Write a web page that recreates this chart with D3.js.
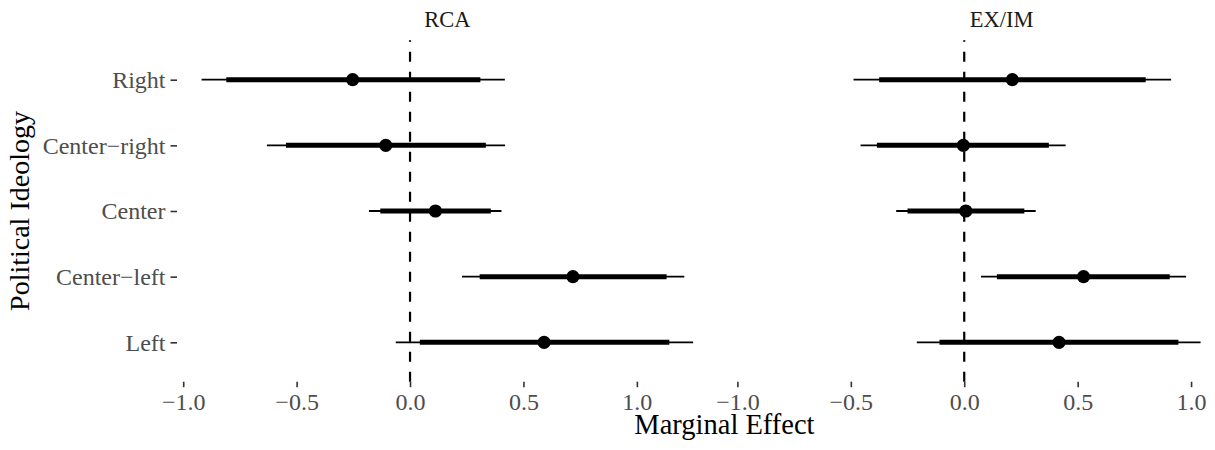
<!DOCTYPE html>
<html>
<head>
<meta charset="utf-8">
<script src="https://cdn.jsdelivr.net/npm/d3@7"></script>
<style>
  html, body { margin: 0; padding: 0; background: #ffffff; }
  svg { display: block; font-family: "Liberation Serif", "Times New Roman", serif; }
</style>
</head>
<body>
<svg id="chart" width="1215" height="450"></svg>
<script>
// Political ideology groups, top to bottom
const categories = ["Right", "Center\u2212right", "Center", "Center\u2212left", "Left"];
const panels = ["RCA", "EX/IM"];
const xTicks = [-1.0, -0.5, 0.0, 0.5, 1.0];

// RCA: point estimates with 90% (inner) and 95% (outer) intervals
const rcaEstimate = [-0.253, -0.107, 0.112, 0.718, 0.591];
const rcaLo90 = [-0.810, -0.547, -0.131, 0.307, 0.043];
const rcaHi90 = [0.310, 0.334, 0.356, 1.131, 1.143];
const rcaLo95 = [-0.919, -0.631, -0.181, 0.229, -0.063];
const rcaHi95 = [0.418, 0.419, 0.403, 1.209, 1.248];

// EX/IM: point estimates with 90% (inner) and 95% (outer) intervals
const eximEstimate = [0.212, -0.004, 0.007, 0.526, 0.418];
const eximLo90 = [-0.375, -0.385, -0.250, 0.144, -0.109];
const eximHi90 = [0.800, 0.373, 0.265, 0.906, 0.944];
const eximLo95 = [-0.488, -0.457, -0.300, 0.074, -0.209];
const eximHi95 = [0.912, 0.447, 0.315, 0.978, 1.042];

function rows(est, lo90, hi90, lo95, hi95) {
  return categories.map((c, i) => ({
    cat: c, est: est[i], lo90: lo90[i], hi90: hi90[i], lo95: lo95[i], hi95: hi95[i]
  }));
}
const facetData = [
  rows(rcaEstimate, rcaLo90, rcaHi90, rcaLo95, rcaHi95),
  rows(eximEstimate, eximLo90, eximHi90, eximLo95, eximHi95)
];

const svg = d3.select("#chart");

// Layout
const panelLeft = 177;
const panelWidth = 540.7;
const panelGap = 13.5;
const panelTop = 40.3;
const panelBottom = 381.7;

// Shared x scale: full data extent expanded by 5% on each side
const allVals = facetData.flat().flatMap(d => [d.lo95, d.hi95]);
const ext = d3.extent(allVals);
const pad = (ext[1] - ext[0]) * 0.05;
const x = d3.scaleLinear()
  .domain([ext[0] - pad, ext[1] + pad])
  .range([0, panelWidth]);

const y = d3.scalePoint()
  .domain(categories)
  .range([panelTop, panelBottom])
  .padding(0.6);

const axisTextColor = "#4d4d4d";
const tickColor = "#333333";

panels.forEach((name, pi) => {
  const g = svg.append("g")
    .attr("transform", `translate(${panelLeft + pi * (panelWidth + panelGap)},0)`);

  // strip label
  g.append("text")
    .attr("x", panelWidth / 2)
    .attr("y", 26.7)
    .attr("text-anchor", "middle")
    .attr("font-size", 22.5)
    .attr("fill", "#1a1a1a")
    .text(name);

  // reference line at zero
  g.append("line")
    .attr("x1", x(0)).attr("x2", x(0))
    .attr("y1", panelBottom).attr("y2", panelTop)
    .attr("stroke", "#000")
    .attr("stroke-width", 2.2)
    .attr("stroke-dasharray", "10,10");

  const data = facetData[pi];

  // 95% intervals (thin)
  g.selectAll("line.ci95").data(data).join("line")
    .attr("class", "ci95")
    .attr("x1", d => x(d.lo95)).attr("x2", d => x(d.hi95))
    .attr("y1", d => y(d.cat)).attr("y2", d => y(d.cat))
    .attr("stroke", "#000").attr("stroke-width", 1.8);

  // 90% intervals (thick)
  g.selectAll("line.ci90").data(data).join("line")
    .attr("class", "ci90")
    .attr("x1", d => x(d.lo90)).attr("x2", d => x(d.hi90))
    .attr("y1", d => y(d.cat)).attr("y2", d => y(d.cat))
    .attr("stroke", "#000").attr("stroke-width", 5);

  // point estimates
  g.selectAll("circle.est").data(data).join("circle")
    .attr("class", "est")
    .attr("cx", d => x(d.est)).attr("cy", d => y(d.cat))
    .attr("r", 6.6).attr("fill", "#000");

  // x axis
  const xAxis = g.append("g")
    .attr("transform", `translate(0,${panelBottom})`)
    .call(d3.axisBottom(x).tickValues(xTicks).tickFormat(d => d3.format(".1f")(d).replace("-", "\u2212"))
      .tickSizeInner(5.5).tickSizeOuter(0).tickPadding(5));
  xAxis.select(".domain").remove();
  xAxis.selectAll(".tick line").attr("stroke", tickColor).attr("stroke-width", 1.6);
  xAxis.selectAll(".tick text")
    .attr("fill", axisTextColor)
    .attr("font-size", 24)
    .attr("font-family", "Liberation Serif, Times New Roman, serif")
    .attr("dy", "0.75em");

  // y axis only on the first panel
  if (pi === 0) {
    const yAxis = g.append("g")
      .call(d3.axisLeft(y).tickSizeInner(6.5).tickSizeOuter(0).tickPadding(5));
    yAxis.select(".domain").remove();
    yAxis.selectAll(".tick line").attr("stroke", tickColor).attr("stroke-width", 1.6);
    yAxis.selectAll(".tick text")
      .attr("fill", axisTextColor)
      .attr("font-size", 24)
      .attr("font-family", "Liberation Serif, Times New Roman, serif")
      .attr("dy", "0.33em");
  }
});

// axis titles
svg.append("text")
  .attr("x", panelLeft + panelWidth + panelGap / 2)
  .attr("y", 434)
  .attr("text-anchor", "middle")
  .attr("font-size", 28.5)
  .attr("fill", "#000")
  .text("Marginal Effect");

svg.append("text")
  .attr("transform", `translate(29,${(panelTop + panelBottom) / 2}) rotate(-90)`)
  .attr("text-anchor", "middle")
  .attr("font-size", 28)
  .attr("fill", "#000")
  .text("Political Ideology");
</script>
</body>
</html>
